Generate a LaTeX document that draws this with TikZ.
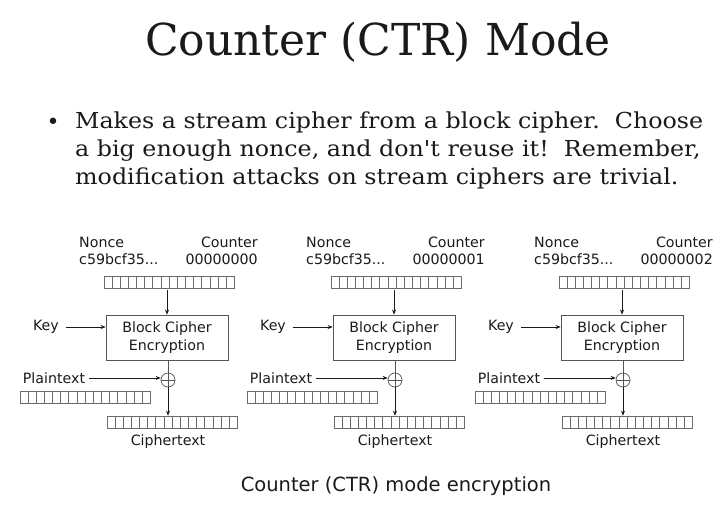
\documentclass[tikz,border=0pt]{standalone}
\usepackage{fontspec}
\setmainfont{DejaVu Serif}
\setsansfont{DejaVu Sans}
\newfontfamily\parafont[FakeStretch=1.08, Ligatures=TeXOff]{DejaVu Serif}
\usetikzlibrary{calc,arrows.meta}
\definecolor{ink}{HTML}{1A1A1A}
\definecolor{linegray}{HTML}{555555}
\definecolor{bitgray}{HTML}{6A6A6A}
\begin{document}
\begin{tikzpicture}[x=1pt,y=-1pt,
  lbl/.style={font=\sffamily\fontsize{14.2}{17}\selectfont, text=ink, inner sep=0pt},
  bits/.style={draw=bitgray, line width=0.7pt, minimum width=130pt, minimum height=12pt, inner sep=0pt},
  cipherbox/.style={draw=linegray, line width=0.8pt, minimum width=122pt, minimum height=45pt, inner sep=0pt, align=center, font=\sffamily\fontsize{14.2}{17.5}\selectfont, text=ink},
  xorop/.style={circle, draw=linegray, line width=0.7pt, minimum size=14pt, inner sep=0pt,
     path picture={\draw[linegray, line width=0.7pt] (path picture bounding box.west) -- (path picture bounding box.east)
                   (path picture bounding box.north) -- (path picture bounding box.south);}},
  flow/.style={draw=ink, line width=0.6pt, -{Stealth[length=5pt,width=4pt]}},
  plainline/.style={draw=linegray, line width=0.6pt}
]
\useasboundingbox (0,0) rectangle (728,525);
\fill[white] (0,0) rectangle (728,525);

\node[font=\fontsize{44}{50}\selectfont, text=ink, inner sep=0pt] (title) at (378,42) {Counter (CTR) Mode};

\node[font=\fontsize{22}{28}\selectfont, text=ink, inner sep=0pt] (bullet) at (53,124) {•};
\node[font=\parafont\fontsize{22}{28}\selectfont, text=ink, inner sep=0pt, anchor=north west, align=left] (para) at (75,112)
 {Makes a stream cipher from a block cipher.\ \ Choose\\a big enough nonce, and don't reuse it!\ \ Remember,\\modification attacks on stream ciphers are trivial.};

\foreach \i/\dx/\cnt in {1/0/00000000, 2/227/00000001, 3/455/00000002}{
  \begin{scope}[xshift=\dx]
  \node[lbl, anchor=west] (nonce\i) at (79,242) {Nonce};
  \node[lbl, anchor=east] (counter\i) at (258,242) {Counter};
  \node[lbl, anchor=west] (nval\i) at (79,259) {c59bcf35...};
  \node[lbl, anchor=east] (cval\i) at (258,259) {\cnt};
  \node[bits] (ctr\i) at (169,282) {};
  \node[cipherbox] (box\i) at (167,337.5) {Block Cipher\\Encryption};
  \node[lbl] (key\i) at (46,327) {Key};
  \node[xorop] (xor\i) at (168,380) {};
  \node[lbl] (pt\i) at (54,378) {Plaintext};
  \node[bits] (ptbits\i) at (85,397.5) {};
  \node[bits] (ctbits\i) at (172,422) {};
  \node[lbl] (ctl\i) at (168,442) {Ciphertext};
  \end{scope}
  \foreach \b in {ctr\i,ptbits\i,ctbits\i}{
    \foreach \k in {1,...,15}{
      \draw[bitgray, line width=0.6pt] ($(\b.south west)!\k/16!(\b.south east)$) -- ($(\b.north west)!\k/16!(\b.north east)$);
    }
  }
  \draw[flow] (ctr\i.south -| box\i.north) ++(0,2) -- (box\i.north);
  \draw[flow] ($(key\i.east)+(7,0)$) -- (key\i.east -| box\i.west);
  \draw[plainline] (box\i.south -| xor\i.north) -- (xor\i.north);
  \draw[flow] ($(pt\i.east)+(4,0)$) -- (pt\i.east -| xor\i.west);
  \draw[flow] (xor\i.south) -- (xor\i.south |- ctbits\i.north);
}

\node[font=\sffamily\fontsize{19.5}{23}\selectfont, text=ink, inner sep=0pt] (caption) at (396,486) {Counter (CTR) mode encryption};
\end{tikzpicture}
\end{document}
